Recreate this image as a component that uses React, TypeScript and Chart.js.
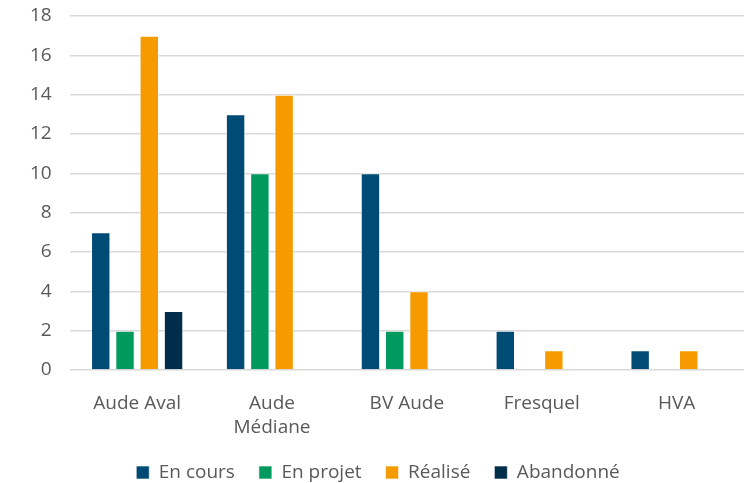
import React, { useEffect, useRef } from "react";
import { Chart, registerables } from "chart.js";

Chart.register(...registerables);

const categories: (string | string[])[] = ["Aude Aval", ["Aude", "Médiane"], "BV Aude", "Fresquel", "HVA"];
const enCours = [7, 13, 10, 2, 1];
const enProjet = [2, 10, 2, 0, 0];
const realise = [17, 14, 4, 1, 1];
const abandonne = [3, 0, 0, 0, 0];
const seriesNames = ["En cours", "En projet", "Réalisé", "Abandonné"];
const colors = ["#004B76", "#009A5E", "#F59B00", "#002D4A"];

const legendHeight = {
  id: "legendHeight",
  beforeLayout(chart: any) {
    const lg = chart.legend;
    if (lg && !lg.__patched) {
      const orig = lg.fit.bind(lg);
      lg.fit = function () {
        orig();
        this.height = 44;
      };
      lg.__patched = true;
    }
  },
};

export default function App() {
  const ref = useRef<HTMLCanvasElement>(null);
  useEffect(() => {
    document.body.style.margin = "0";
    const ctx = ref.current!;
    const data = [enCours, enProjet, realise, abandonne];
    const font = { family: "Open Sans", size: 19 };
    const chart = new Chart(ctx, {
      type: "bar",
      data: {
        labels: categories,
        datasets: data.map((d, i) => ({
          label: seriesNames[i],
          data: d,
          backgroundColor: colors[i],
          borderColor: "rgba(255,255,255,0.6)",
          borderWidth: 1,
          barPercentage: 0.8,
          categoryPercentage: 0.72,
        })),
      },
      plugins: [legendHeight],
      options: {
        responsive: false,
        animation: false,
        layout: { padding: { left: 12, right: 6, top: 16, bottom: 0 } },
        plugins: {
          legend: {
            position: "bottom",
            labels: {
              font,
              color: "#595959",
              boxWidth: 13,
              boxHeight: 13,
              padding: 24,
            },
          },
          tooltip: { enabled: false },
        },
        scales: {
          x: {
            grid: { display: false },
            border: { display: false },
            ticks: { font: { family: "Open Sans", size: 19, lineHeight: 1.3 }, color: "#595959", maxRotation: 0, padding: 13 },
            afterFit: (scale: any) => {
              scale.height = 69;
              scale.paddingLeft = 0;
              scale.paddingRight = 0;
            },
          },
          y: {
            min: 0,
            max: 18,
            ticks: { stepSize: 2, font, color: "#595959", padding: 18 },
            grid: { color: "#D9D9D9", lineWidth: 1.5, drawTicks: false },
            border: { display: false },
            afterFit: (scale: any) => {
              scale.paddingTop = 0;
            },
          },
        },
      },
    });
    return () => chart.destroy();
  }, []);
  return <canvas ref={ref} width={750} height={483} style={{ display: "block" }} />;
}
